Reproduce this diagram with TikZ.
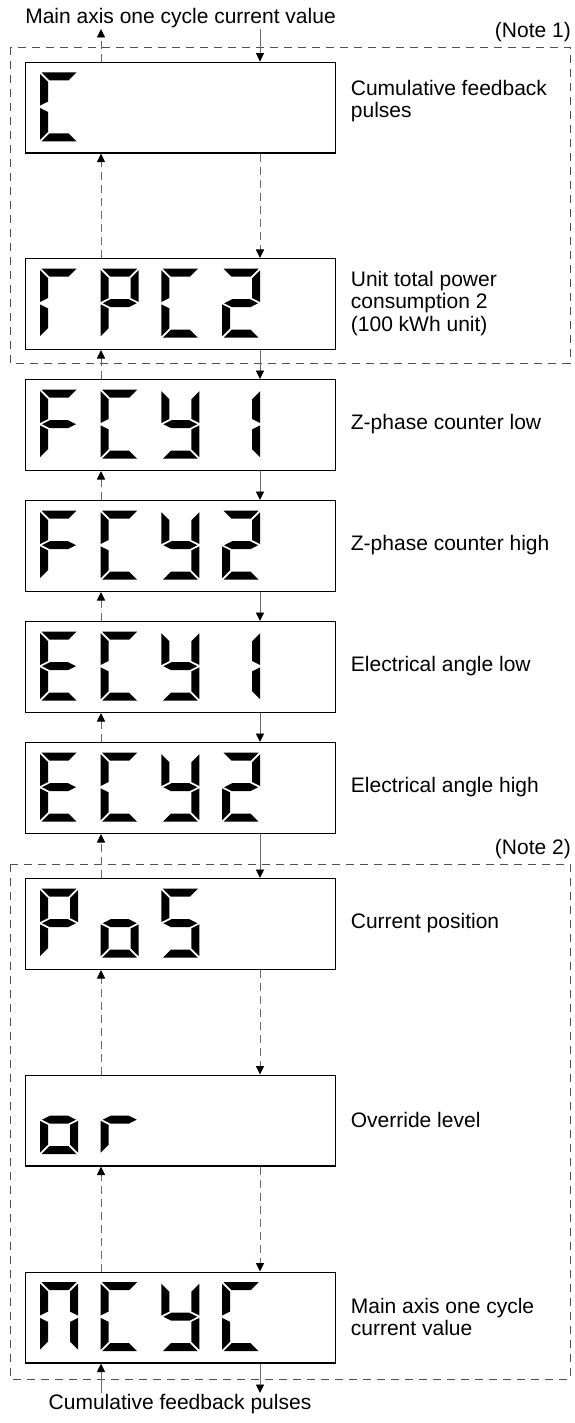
\documentclass[tikz,border=0pt]{standalone}
\usepackage{fontspec}
\setmainfont{Liberation Sans}
\usetikzlibrary{arrows.meta}
\definecolor{conncol}{HTML}{6A6A6A}
\definecolor{framecol}{HTML}{505050}
% seven-segment pieces, local coords (y down), digit 38 x 69
\newcommand\dsega{\fill (1.5,0) -- (36.5,0) -- (28.5,8) -- (9.5,8) -- cycle;}
\newcommand\dsegd{\fill (1.5,69) -- (36.5,69) -- (28.5,61) -- (9.5,61) -- cycle;}
\newcommand\dsegf{\fill (0,1.5) -- (8,9.5) -- (8,29.3) -- (0,33.3) -- cycle;}
\newcommand\dsege{\fill (0,67.5) -- (8,59.5) -- (8,39.7) -- (0,35.7) -- cycle;}
\newcommand\dsegb{\fill (38,1.5) -- (30,9.5) -- (30,29.3) -- (38,33.3) -- cycle;}
\newcommand\dsegc{\fill (38,67.5) -- (30,59.5) -- (30,39.7) -- (38,35.7) -- cycle;}
\newcommand\dsegg{\fill (2,34.5) -- (10,30.5) -- (28,30.5) -- (36,34.5) -- (28,38.5) -- (10,38.5) -- cycle;}
% #1 box top, #2 digit index, #3 segment list
\newcommand\digitat[3]{%
  \begin{scope}[shift={({40+60.7*#2},{#1+10.7})}]
    \foreach \s in {#3}{\csname dseg\s\endcsname}
  \end{scope}}
\begin{document}
\begin{tikzpicture}[x=1pt,y=-1pt,
  dispbox/.style={draw=black, line width=1.3pt, minimum width=310pt,
    minimum height=90.7pt, inner sep=0pt, anchor=north west},
  lbl/.style={font=\fontsize{21}{22.5}\selectfont, inner sep=0pt, align=left},
  conn/.style={draw=conncol, line width=0.9pt,
    -{Triangle[length=8.5pt,width=8pt,color=black]}},
  dsh/.style={dash pattern=on 8pt off 5pt},
  framebox/.style={draw=framecol, line width=0.9pt, dash pattern=on 8pt off 6pt}]
\useasboundingbox (0,0) rectangle (574,1423);
\fill[white] (0,0) rectangle (574,1423);

% frames
\draw[framebox] (10.7,47) rectangle (570,363.3);
\draw[framebox] (10.7,864) rectangle (570,1379.5);
\node[lbl, anchor=east] (note1) at (571,32.5) {(Note 1)};
\node[lbl, anchor=east] (note2) at (571,849) {(Note 2)};

% column coordinates
\coordinate (L) at (101,0);
\coordinate (R) at (260,0);
\coordinate (topend) at (0,29);
\coordinate (botend) at (0,1393);

\node[lbl] (toptext) at (180.5,18) {Main axis one cycle current value};
\node[lbl] (bottext) at (180,1404) {Cumulative feedback pulses};

% boxes
\node[dispbox] (b1) at (25,61.6) {};
\node[dispbox] (b2) at (25,258) {};
\node[dispbox] (b3) at (25,379) {};
\node[dispbox] (b4) at (25,500) {};
\node[dispbox] (b5) at (25,621) {};
\node[dispbox] (b6) at (25,742) {};
\node[dispbox] (b7) at (25,878) {};
\node[dispbox] (b8) at (25,1074.5) {};
\node[dispbox] (b9) at (25,1271.5) {};

% labels
\node[lbl, anchor=west] (l1) at (350.7,101) {Cumulative feedback\\pulses};
\node[lbl, anchor=west] (l2) at (350.7,303.4) {Unit total power\\consumption 2\\(100 kWh unit)};
\node[lbl, anchor=west] (l3) at (350.7,424.4) {Z-phase counter low};
\node[lbl, anchor=west] (l4) at (350.7,545.4) {Z-phase counter high};
\node[lbl, anchor=west] (l5) at (350.7,666.4) {Electrical angle low};
\node[lbl, anchor=west] (l6) at (350.7,787.4) {Electrical angle high};
\node[lbl, anchor=west] (l7) at (350.7,923.4) {Current position};
\node[lbl, anchor=west] (l8) at (350.7,1119.9) {Override level};
\node[lbl, anchor=west] (l9) at (350.7,1316.9) {Main axis one cycle\\current value};

% digits
\digitat{61.6}{0}{a,f,e,d}
\digitat{258}{0}{a,f,e}
\digitat{258}{1}{a,b,f,g,e}
\digitat{258}{2}{a,f,e,d}
\digitat{258}{3}{a,b,g,e,d}
\digitat{379}{0}{a,f,g,e}
\digitat{379}{1}{a,f,e,d}
\digitat{379}{2}{f,b,g,c,d}
\digitat{379}{3}{b,c}
\digitat{500}{0}{a,f,g,e}
\digitat{500}{1}{a,f,e,d}
\digitat{500}{2}{f,b,g,c,d}
\digitat{500}{3}{a,b,g,e,d}
\digitat{621}{0}{a,f,g,e,d}
\digitat{621}{1}{a,f,e,d}
\digitat{621}{2}{f,b,g,c,d}
\digitat{621}{3}{b,c}
\digitat{742}{0}{a,f,g,e,d}
\digitat{742}{1}{a,f,e,d}
\digitat{742}{2}{f,b,g,c,d}
\digitat{742}{3}{a,b,g,e,d}
\digitat{878}{0}{a,b,f,g,e}
\digitat{878}{1}{g,e,c,d}
\digitat{878}{2}{a,f,g,c,d}
\digitat{1074.5}{0}{g,e,c,d}
\digitat{1074.5}{1}{g,e}
\digitat{1271.5}{0}{a,b,c,e,f}
\digitat{1271.5}{1}{a,f,e,d}
\digitat{1271.5}{2}{f,b,g,c,d}
\digitat{1271.5}{3}{a,f,e,d}

% connectors, top
\draw[conn] (topend -| R) -- (b1.north -| R);
\draw[conn,dsh] (b1.north -| L) -- (topend -| L);
% down (right column)
\draw[conn,dsh] (b1.south -| R) -- (b2.north -| R);
\draw[conn] (b2.south -| R) -- (b3.north -| R);
\draw[conn] (b3.south -| R) -- (b4.north -| R);
\draw[conn] (b4.south -| R) -- (b5.north -| R);
\draw[conn] (b5.south -| R) -- (b6.north -| R);
\draw[conn] (b6.south -| R) -- (b7.north -| R);
\draw[conn,dsh] (b7.south -| R) -- (b8.north -| R);
\draw[conn,dsh] (b8.south -| R) -- (b9.north -| R);
\draw[conn] (b9.south -| R) -- (botend -| R);
% up (left column)
\draw[conn,dsh] (b2.north -| L) -- (b1.south -| L);
\draw[conn,dsh] (b3.north -| L) -- (b2.south -| L);
\draw[conn,dsh] (b4.north -| L) -- (b3.south -| L);
\draw[conn,dsh] (b5.north -| L) -- (b4.south -| L);
\draw[conn,dsh] (b6.north -| L) -- (b5.south -| L);
\draw[conn,dsh] (b7.north -| L) -- (b6.south -| L);
\draw[conn,dsh] (b8.north -| L) -- (b7.south -| L);
\draw[conn,dsh] (b9.north -| L) -- (b8.south -| L);
\draw[conn] (botend -| L) -- (b9.south -| L);
\end{tikzpicture}
\end{document}
